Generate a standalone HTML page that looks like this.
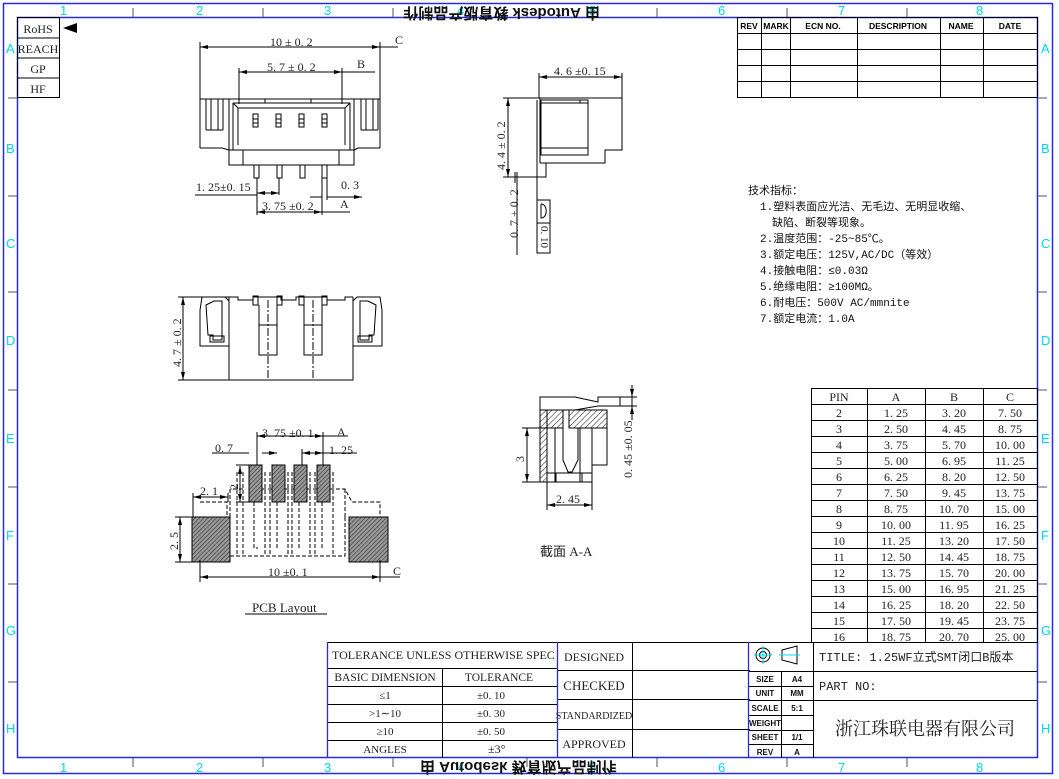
<!DOCTYPE html>
<html><head><meta charset="utf-8"><style>
html,body{margin:0;padding:0;background:#fff;}
svg{display:block;font-family:"Liberation Serif","Noto Serif CJK SC",serif;}
.z{fill:#00d8e8;font-family:"Liberation Sans",sans-serif;font-size:13px;}
.t{font-size:12px;fill:#222;}
.s{font-family:"Liberation Mono","Noto Sans CJK SC",monospace;font-size:11px;fill:#111;}
</style></head><body>
<svg width="1059" height="779" viewBox="0 0 1059 779" xmlns="http://www.w3.org/2000/svg">
<defs>
<pattern id="h" width="4" height="4" patternUnits="userSpaceOnUse" patternTransform="rotate(45)">
<rect width="4" height="4" fill="#fff"/><line x1="0" y1="0" x2="0" y2="4" stroke="#333" stroke-width="1.2"/></pattern>
<pattern id="hd" width="3" height="3" patternUnits="userSpaceOnUse" patternTransform="rotate(45)">
<rect width="3" height="3" fill="#999"/><line x1="0" y1="0" x2="0" y2="3" stroke="#333" stroke-width="1.2"/></pattern>
<marker id="a" markerWidth="8" markerHeight="6" refX="8" refY="3" orient="auto-start-reverse"><path d="M0,1 L8,3 L0,5z" fill="#000"/></marker>
</defs>
<rect width="1059" height="779" fill="#fff"/>
<rect x="3.5" y="3.5" width="1049" height="770" fill="none" stroke="#2a2ae0" stroke-width="1.5"/>
<rect x="17.5" y="17.5" width="1020" height="740" fill="none" stroke="#2a2ae0" stroke-width="1.5"/>
<g class="z">
<text x="60" y="15">1</text><text x="196" y="15">2</text><text x="324" y="15">3</text><text x="457" y="15">4</text><text x="589" y="15">5</text><text x="718" y="15">6</text><text x="838" y="15">7</text><text x="976" y="15">8</text>
<text x="60" y="772">1</text><text x="196" y="772">2</text><text x="324" y="772">3</text><text x="457" y="772">4</text><text x="589" y="772">5</text><text x="718" y="772">6</text><text x="838" y="772">7</text><text x="976" y="772">8</text>
<text x="6" y="53">A</text><text x="6" y="153">B</text><text x="6" y="248">C</text><text x="6" y="345">D</text><text x="6" y="443">E</text><text x="6" y="540">F</text><text x="6" y="635">G</text><text x="6" y="733">H</text>
<text x="1041" y="53">A</text><text x="1041" y="153">B</text><text x="1041" y="248">C</text><text x="1041" y="345">D</text><text x="1041" y="443">E</text><text x="1041" y="540">F</text><text x="1041" y="635">G</text><text x="1041" y="733">H</text>
</g>
<g stroke="#555" stroke-width="1">
<path d="M133 8V17M263 8V17M393 8V17M527 8V17M657 8V17M787 8V17M907 8V17"/>
<path d="M133 758V767M263 758V767M393 758V767M527 758V767M657 758V767M787 758V767M907 758V767"/>
<path d="M8 98H17M8 196H17M8 292H17M8 390H17M8 487H17M8 584H17M8 682H17"/>
<path d="M1038 98H1047M1038 196H1047M1038 292H1047M1038 390H1047M1038 487H1047M1038 584H1047M1038 682H1047"/>
</g>
<g font-family="Liberation Sans,Noto Sans CJK SC,sans-serif" font-weight="bold" font-size="15" fill="#111">
<text transform="translate(600,8) rotate(180)">由 Autodesk 教育版产品制作</text>
<text transform="translate(420,762) scale(1,-1)">由 Autodesk 教育版产品制作</text>
</g>
<g stroke="#000" fill="none"><rect x="17.5" y="17.5" width="42" height="80"/><path d="M17 38H60M17 58H60M17 78H60"/></g>
<path d="M63 28L77 23V33z" fill="#000"/>
<g class="t" font-size="13" text-anchor="middle"><text x="38" y="33">RoHS</text><text x="38" y="53">REACH</text><text x="38" y="73">GP</text><text x="38" y="93">HF</text></g>
<g stroke="#000" fill="none">
<rect x="737.5" y="17.5" width="300" height="80"/>
<path d="M737 33.5H1037M737 49.5H1037M737 65.5H1037M737 81.5H1037M761.5 17V97M790.5 17V97M857.5 17V97M940.5 17V97M983.5 17V97"/>
</g>
<g font-family="Liberation Sans,sans-serif" font-weight="bold" font-size="8.5" fill="#000" text-anchor="middle">
<text x="749" y="29">REV</text><text x="776" y="29">MARK</text><text x="823" y="29">ECN NO.</text><text x="898" y="29">DESCRIPTION</text><text x="961" y="29">NAME</text><text x="1010" y="29">DATE</text></g>

<g stroke="#000" fill="none" stroke-width="1">
<path d="M200 47H380" marker-start="url(#a)" marker-end="url(#a)"/>
<path d="M200 42V148M380 42V148M380 47H398"/>
<path d="M342 72H375" /><path d="M239 72H342" marker-start="url(#a)" marker-end="url(#a)"/>
<path d="M239 68V104M342 68V104"/>
<path d="M200 99H229M200 148H222L229 150M380 99H354M380 148H358L354 150"/>
<path d="M206 99V130M211 99V130M218 99V130M223 99V130M206 130H223M361 99V130M366 99V130M373 99V130M378 99V130M361 130H378"/>
<rect x="229" y="99" width="125" height="66"/>
<path d="M229 150H354M243 150V165M339 150V165M233 103H350M233 103V150M350 103V150M238 108H345M238 108V145M345 108V145M233 103L238 108M350 103L345 108M265 99V103M311 99V103"/>
<rect x="253" y="114" width="5" height="13"/><rect x="276" y="114" width="5" height="13"/><rect x="299" y="114" width="5" height="13"/><rect x="322" y="114" width="5" height="13"/>
<path d="M253 119H258M253 123H258M276 119H281M276 123H281M299 119H304M299 123H304M322 119H327M322 123H327"/>
<rect x="254" y="165" width="5" height="13"/><rect x="277" y="165" width="5" height="13"/><rect x="300" y="165" width="5" height="13"/><rect x="322" y="165" width="5" height="13"/>
<path d="M257 178V215M279 178V195M322 178V215M327 178V200M195 195H257" />
<path d="M257 193H279" marker-start="url(#a)" marker-end="url(#a)"/>
<path d="M310 197H322M327 197H362" marker-end="url(#a)"/>
<path d="M322 212H350" /><path d="M257 212H322" marker-start="url(#a)" marker-end="url(#a)"/>
</g>
<g class="t"><text x="270" y="46">10 ± 0. 2</text><text x="395" y="44">C</text>
<text x="267" y="71">5. 7 ± 0. 2</text><text x="357" y="68">B</text>
<text x="196" y="191">1. 25±0. 15</text><text x="341" y="189">0. 3</text><text x="262" y="210">3. 75 ±0. 2</text><text x="340" y="208">A</text></g>

<g stroke="#000" fill="none">
<path d="M539 77H622" marker-start="url(#a)" marker-end="url(#a)"/>
<path d="M539 73V98M622 73V98"/>
<path d="M539 98H622V150H605V163H540M510 177H546V163M540 98V163M537 100V253"/>
<rect x="541" y="100" width="47" height="55"/><path d="M541 148H588M541 103H588M580 100V103"/>
<path d="M508 98V177" marker-start="url(#a)" marker-end="url(#a)"/>
<path d="M503 98H539M503 177H510M517 172V255M515 172V183"/>
<rect x="537" y="200" width="13" height="53"/><path d="M537 223H550M541 204V218C548 218 548 204 541 204"/>
</g>
<g class="t"><text x="554" y="75">4. 6 ±0. 15</text>
<text transform="translate(505,170) rotate(-90)">4. 4 ± 0. 2</text>
<text transform="translate(518,238) rotate(-90)">0. 7 + 0. 2</text>
<text transform="translate(541,226) rotate(90)" font-size="11">0. 10</text></g>

<g stroke="#000" fill="none">
<path d="M183 297V380" marker-start="url(#a)" marker-end="url(#a)"/>
<path d="M178 297H229M178 380H229"/>
<path d="M229 297V380H353V297M229 297H238V300H253V297H281V300H296V297H327V300H345V297H353"/>
<path d="M202 297H225L229 301V346H200V310ZM206 305L214 301H222V340H213V335H208ZM210 336H224V342H210Z"/>
<path d="M380 297H357L353 301V346H382V310ZM376 305L368 301H360V340H369V335H374ZM372 336H358V342H372Z"/>
<rect x="253" y="296" width="5" height="9"/><rect x="277" y="296" width="5" height="9"/><rect x="299" y="296" width="5" height="9"/><rect x="322" y="296" width="5" height="9"/>
<path d="M259 305V355H277V305M259 325H277M304 305V355H322V305M304 325H322"/>
<path d="M268 300V380M313 300V380" stroke-dasharray="8 2 2 2"/>
</g>
<text class="t" transform="translate(181,367) rotate(-90)">4. 7 ± 0. 2</text>

<g stroke="#000" fill="none">
<path d="M233 489H245M262 489H272M285 489H294M307 489H317M330 489H345L352 502H380V517M200 502H227V517M230 489V517M230 556H345V517M237 472V556M243 472V556M265 472V556M270 472V556M288 472V556M292 472V556M310 472V556M315 472V556M333 472V556M254 502V548H258M277 502V548M299 502V548M322 502V548M345 489V517M199 525H220V556" stroke-dasharray="4 2"/>
</g>
<g stroke="#000">
<rect x="249" y="465" width="13" height="37" fill="url(#hd)"/><rect x="272" y="465" width="13" height="37" fill="url(#hd)"/><rect x="294" y="465" width="13" height="37" fill="url(#hd)"/><rect x="317" y="465" width="13" height="37" fill="url(#hd)"/>
<rect x="192" y="517" width="38" height="45" fill="url(#hd)"/><rect x="349" y="517" width="39" height="45" fill="url(#hd)"/>
</g>
<g stroke="#000" fill="none">
<path d="M257 436H323" marker-start="url(#a)" marker-end="url(#a)"/><path d="M323 436H348M257 432V465M323 432V465"/>
<path d="M242 453H249M262 453H277" marker-end="url(#a)"/><path d="M212 453H249"/>
<path d="M302 453H323" marker-start="url(#a)" marker-end="url(#a)"/><path d="M323 453H357M302 449V465"/>
<path d="M240 466V502" marker-start="url(#a)" marker-end="url(#a)"/><path d="M236 465H249M236 502H249"/>
<path d="M193 497H228" marker-start="url(#a)" marker-end="url(#a)"/><path d="M193 493V517M228 493V502"/>
<path d="M180 517V562" marker-start="url(#a)" marker-end="url(#a)"/><path d="M175 517H192M175 562H192"/>
<path d="M200 577H380" marker-start="url(#a)" marker-end="url(#a)"/><path d="M200 560V582M380 560V582M380 577H400"/>
<path d="M245 614H327"/>
</g>
<g class="t"><text x="262" y="437">3. 75 ±0. 1</text><text x="337" y="436">A</text><text x="215" y="452">0. 7</text><text x="329" y="454">1. 25</text>
<text x="200" y="495">2. 1</text><text transform="translate(238,490) rotate(-90)">2</text><text transform="translate(178,550) rotate(-90)">2. 5</text>
<text x="268" y="576">10 ±0. 1</text><text x="393" y="575">C</text><text x="252" y="612" font-size="13">PCB  Layout</text></g>

<g stroke="#000" fill="none">
<path d="M540 397H575L598 402V397H620V406H598L575 410H540Z"/>
<rect x="540" y="410" width="7" height="72" fill="url(#h)"/>
<rect x="547" y="410" width="16" height="18" fill="url(#h)"/><rect x="569" y="410" width="38" height="18" fill="url(#h)"/>
<path d="M563 428V460L568 472H572L578 460V428M569 410V428M563 410H569M547 428V482H592V428M555 428V482M580 428V482M592 465H607V428M547 473H592M556 473V482M582 473V482"/>
<path d="M527 428V482" marker-start="url(#a)" marker-end="url(#a)"/><path d="M522 428H547M522 482H547"/>
<path d="M547 505H592" marker-start="url(#a)" marker-end="url(#a)"/><path d="M547 482V510M592 482V510"/>
<path d="M632 385V397" marker-end="url(#a)"/><path d="M632 420V406" marker-end="url(#a)"/><path d="M632 397V406M620 397H637M620 406H637"/>
</g>
<g class="t"><text transform="translate(524,462) rotate(-90)">3</text><text x="556" y="503">2. 45</text>
<text transform="translate(632,478) rotate(-90)">0. 45 ±0. 05</text>
<text x="540" y="556" font-size="13" font-family="Liberation Serif,Noto Sans CJK SC,serif">截面   A-A</text></g>

<g class="s">
<text x="748" y="194">技术指标：</text>
<text x="760" y="210">1.塑料表面应光洁、无毛边、无明显收缩、</text>
<text x="772" y="226">缺陷、断裂等现象。</text>
<text x="760" y="242">2.温度范围：-25~85℃。</text>
<text x="760" y="258">3.额定电压：125V,AC/DC（等效）</text>
<text x="760" y="274">4.接触电阻：≤0.03Ω</text>
<text x="760" y="290">5.绝缘电阻：≥100MΩ。</text>
<text x="760" y="306">6.耐电压：500V AC/mmnite</text>
<text x="760" y="322">7.额定电流：1.0A</text>
</g>

<g stroke="#000" fill="none">
<rect x="811.5" y="388.5" width="226" height="254"/>
<path d="M867.5 388V643M925.5 388V643M983.5 388V643"/>
<path d="M811 404.5H1037M811 420.5H1037M811 436.5H1037M811 452.5H1037M811 468.5H1037M811 484.5H1037M811 500.5H1037M811 516.5H1037M811 532.5H1037M811 548.5H1037M811 564.5H1037M811 580.5H1037M811 596.5H1037M811 612.5H1037M811 628.5H1037"/>
</g>
<g class="t" text-anchor="middle" font-size="12.5">
<text x="839" y="401">PIN</text><text x="896" y="401">A</text><text x="954" y="401">B</text><text x="1010" y="401">C</text>
<text x="839" y="417">2</text><text x="896" y="417">1. 25</text><text x="954" y="417">3. 20</text><text x="1010" y="417">7. 50</text>
<text x="839" y="433">3</text><text x="896" y="433">2. 50</text><text x="954" y="433">4. 45</text><text x="1010" y="433">8. 75</text>
<text x="839" y="449">4</text><text x="896" y="449">3. 75</text><text x="954" y="449">5. 70</text><text x="1010" y="449">10. 00</text>
<text x="839" y="465">5</text><text x="896" y="465">5. 00</text><text x="954" y="465">6. 95</text><text x="1010" y="465">11. 25</text>
<text x="839" y="481">6</text><text x="896" y="481">6. 25</text><text x="954" y="481">8. 20</text><text x="1010" y="481">12. 50</text>
<text x="839" y="497">7</text><text x="896" y="497">7. 50</text><text x="954" y="497">9. 45</text><text x="1010" y="497">13. 75</text>
<text x="839" y="513">8</text><text x="896" y="513">8. 75</text><text x="954" y="513">10. 70</text><text x="1010" y="513">15. 00</text>
<text x="839" y="529">9</text><text x="896" y="529">10. 00</text><text x="954" y="529">11. 95</text><text x="1010" y="529">16. 25</text>
<text x="839" y="545">10</text><text x="896" y="545">11. 25</text><text x="954" y="545">13. 20</text><text x="1010" y="545">17. 50</text>
<text x="839" y="561">11</text><text x="896" y="561">12. 50</text><text x="954" y="561">14. 45</text><text x="1010" y="561">18. 75</text>
<text x="839" y="577">12</text><text x="896" y="577">13. 75</text><text x="954" y="577">15. 70</text><text x="1010" y="577">20. 00</text>
<text x="839" y="593">13</text><text x="896" y="593">15. 00</text><text x="954" y="593">16. 95</text><text x="1010" y="593">21. 25</text>
<text x="839" y="609">14</text><text x="896" y="609">16. 25</text><text x="954" y="609">18. 20</text><text x="1010" y="609">22. 50</text>
<text x="839" y="625">15</text><text x="896" y="625">17. 50</text><text x="954" y="625">19. 45</text><text x="1010" y="625">23. 75</text>
<text x="839" y="641">16</text><text x="896" y="641">18. 75</text><text x="954" y="641">20. 70</text><text x="1010" y="641">25. 00</text>
</g>

<g stroke="#000" fill="none">
<path d="M327.5 642.5H1037.5M327.5 668.5H557M327 686.5H557M327 704.5H557M327 722.5H557M327 740.5H557M442.5 668V758"/>
<path d="M557 670.5H750M557 699.5H750M557 729.5H750M632.5 642V758"/>
<path d="M748 671.5H1037M748 686.5H813M748 700.5H1037M748 715.5H813M748 730.5H813M748 744.5H813M781.5 671V758M813.5 642V758"/>
</g>
<g stroke="#2a2ae0" fill="none" stroke-width="1.3"><path d="M327.5 642V758M557.5 642V758M748.5 642V758"/></g>
<g stroke="#000" fill="none"><circle cx="763" cy="655" r="7"/><circle cx="763" cy="655" r="3.5"/><path d="M782 650L797 646V664L782 660Z"/></g>
<g stroke="#00d8e8"><path d="M754 655H772M763 646V664M779 655H800"/></g>
<g class="t" font-size="12.5"><text x="332" y="659">TOLERANCE UNLESS OTHERWISE SPEC</text>
<text x="385" y="681" text-anchor="middle" font-size="11.5">BASIC DIMENSION</text><text x="499" y="681" text-anchor="middle" font-size="11.5">TOLERANCE</text>
<text x="385" y="699" text-anchor="middle" font-size="11">≤1</text><text x="477" y="699" font-size="11">±0. 10</text>
<text x="385" y="717" text-anchor="middle" font-size="11">&gt;1∼10</text><text x="477" y="717" font-size="11">±0. 30</text>
<text x="385" y="735" text-anchor="middle" font-size="11">≥10</text><text x="477" y="735" font-size="11">±0. 50</text>
<text x="385" y="753" text-anchor="middle" font-size="11">ANGLES</text><text x="488" y="753" font-size="12">±3°</text>
<text x="594" y="661" text-anchor="middle">DESIGNED</text><text x="594" y="690" text-anchor="middle" font-size="13">CHECKED</text>
<text x="594" y="719" text-anchor="middle" font-size="10">STANDARDIZED</text><text x="594" y="748" text-anchor="middle">APPROVED</text>
</g>
<g font-family="Liberation Sans,sans-serif" font-weight="bold" font-size="8" fill="#111" text-anchor="middle">
<text x="765" y="682">SIZE</text><text x="797" y="682">A4</text><text x="765" y="696">UNIT</text><text x="797" y="696">MM</text>
<text x="765" y="711">SCALE</text><text x="797" y="711">5:1</text><text x="765" y="726">WEIGHT</text>
<text x="765" y="740">SHEET</text><text x="797" y="740">1/1</text><text x="765" y="755">REV</text><text x="797" y="755">A</text></g>
<g class="t" font-size="13" font-family="Liberation Mono,Noto Sans CJK SC,monospace">
<text x="819" y="661">TITLE: 1.25WF立式SMT闭口B版本</text><text x="819" y="690">PART NO:</text></g>
<text x="925" y="735" text-anchor="middle" font-size="18" fill="#222" font-family="Noto Serif CJK SC,serif">浙江珠联电器有限公司</text>
</svg>
</body></html>
